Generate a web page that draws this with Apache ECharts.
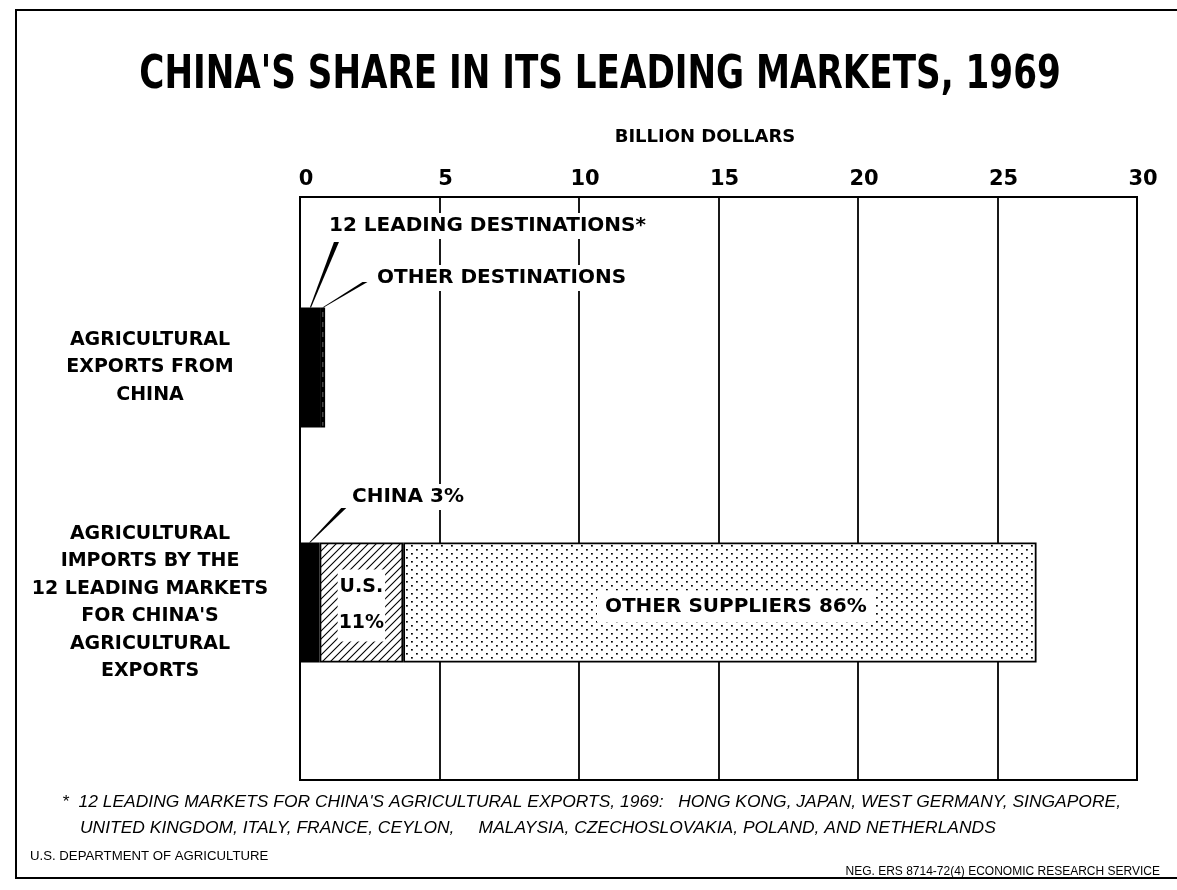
<!DOCTYPE html>
<html>
<head>
<meta charset="utf-8">
<script src="https://cdn.jsdelivr.net/npm/echarts@6/dist/echarts.min.js"></script>
<style>
    html, body { margin: 0; padding: 0; background: #fff; }
    #main { width: 1177px; height: 890px; }
</style>
</head>
<body>
<div id="main"></div>
<script>
// 数据 (billion dollars, 1969)
const categories = [
    'AGRICULTURAL\nEXPORTS FROM\nCHINA',
    'AGRICULTURAL\nIMPORTS BY THE\n12 LEADING MARKETS\nFOR CHINA\'S\nAGRICULTURAL\nEXPORTS'
]
const leadingDestinations = [0.75, null]
const otherDestinations = [0.15, null]
const chinaSupply = [null, 0.7]
const usSupply = [null, 3.0]
const otherSuppliers = [null, 22.7]
const axisMin = 0
const axisMax = 30
const axisStep = 5

const FONT = '"DejaVu Sans", sans-serif'
const importTotal = chinaSupply[1] + usSupply[1] + otherSuppliers[1]

function pct (v) {
    return Math.round(v / importTotal * 100) + '%'
}

/**
 * 图案填充
 */
function makePattern (w, h, draw) {
    let c = document.createElement('canvas')
    c.width = w
    c.height = h
    let ctx = c.getContext('2d')
    draw(ctx)
    return { image: c, repeat: 'repeat' }
}

const hatch = makePattern(8, 8, function (ctx) {
    ctx.fillStyle = '#fff'
    ctx.fillRect(0, 0, 8, 8)
    ctx.strokeStyle = '#000'
    ctx.lineWidth = 1.1
    ctx.beginPath()
    ctx.moveTo(-1, 9); ctx.lineTo(9, -1)
    ctx.moveTo(-5, 5); ctx.lineTo(5, -5)
    ctx.moveTo(3, 13); ctx.lineTo(13, 3)
    ctx.stroke()
})

const dots = makePattern(10, 8, function (ctx) {
    ctx.fillStyle = '#fff'
    ctx.fillRect(0, 0, 10, 8)
    ctx.fillStyle = '#000'
    ctx.fillRect(1, 1, 1.8, 1.6)
    ctx.fillRect(6, 5, 1.8, 1.6)
})

const dashes = makePattern(5, 10, function (ctx) {
    ctx.fillStyle = '#000'
    ctx.fillRect(0, 0, 5, 10)
    ctx.fillStyle = '#fff'
    ctx.fillRect(2, 2, 1.5, 5)
})

const barStyle = function (color) {
    return { color: color, borderColor: '#000', borderWidth: 1.8 }
}

const dom = document.getElementById('main')
const chart = echarts.init(dom, null, { renderer: 'canvas' })

const option = {
    animation: false,
    backgroundColor: '#fff',
    grid: [
        { left: 300, right: 40, top: 197, bottom: 110, show: true, borderColor: '#000', borderWidth: 2, backgroundColor: 'transparent' },
        { left: 300, right: 40, top: 250, bottom: 170 }
    ],
    xAxis: [
        {
            gridIndex: 0,
            type: 'value',
            position: 'top',
            min: axisMin,
            max: axisMax,
            interval: axisStep,
            axisLine: { show: false },
            axisTick: { show: false },
            axisLabel: { margin: 7, padding: [0, 0, 0, 12], fontFamily: FONT, fontWeight: 'bold', fontSize: 21, color: '#000' },
            splitLine: { lineStyle: { color: '#000', width: 1.8 } }
        },
        { gridIndex: 1, type: 'value', min: axisMin, max: axisMax, show: false }
    ],
    yAxis: [
        { gridIndex: 0, type: 'value', show: false },
        {
            gridIndex: 1,
            type: 'category',
            inverse: true,
            data: categories,
            axisLine: { show: false },
            axisTick: { show: false },
            axisLabel: { margin: 150, align: 'center', lineHeight: 27.5, fontFamily: FONT, fontWeight: 'bold', fontSize: 19, color: '#000' }
        }
    ],
    series: [
        { name: '12 leading destinations', type: 'bar', xAxisIndex: 1, yAxisIndex: 1, stack: 'all', barWidth: 120, data: leadingDestinations, itemStyle: barStyle('#000') },
        { name: 'Other destinations', type: 'bar', xAxisIndex: 1, yAxisIndex: 1, stack: 'all', barWidth: 120, data: otherDestinations, itemStyle: barStyle(dashes) },
        { name: 'China', type: 'bar', xAxisIndex: 1, yAxisIndex: 1, stack: 'all', barWidth: 120, data: chinaSupply, itemStyle: barStyle('#000') },
        {
            name: 'U.S.', type: 'bar', xAxisIndex: 1, yAxisIndex: 1, stack: 'all', barWidth: 120, data: usSupply, itemStyle: barStyle(hatch),
            label: {
                show: true, position: 'inside', lineHeight: 36, offset: [0, 3],
                formatter: p => 'U.S.\n' + pct(p.value),
                fontFamily: FONT, fontWeight: 'bold', fontSize: 19, color: '#000', backgroundColor: '#fff', padding: [0, 1]
            }
        },
        {
            name: 'Other suppliers', type: 'bar', xAxisIndex: 1, yAxisIndex: 1, stack: 'all', barWidth: 120, data: otherSuppliers, itemStyle: barStyle(dots),
            label: {
                show: true, position: 'inside', offset: [16, 4],
                formatter: p => 'OTHER SUPPLIERS ' + pct(p.value),
                fontFamily: FONT, fontWeight: 'bold', fontSize: 20, color: '#000', backgroundColor: '#fff', padding: [6, 8]
            }
        }
    ]
}
chart.setOption(option)

// 注释与引线
function px (x, cat) {
    return chart.convertToPixel({ gridIndex: 1 }, [x, cat])
}
function wedge (from, to) {
    return {
        type: 'polygon', z: 20,
        shape: { points: [[from[0] - 2.5, from[1]], [from[0] + 2.5, from[1]], [to[0] + 0.6, to[1]], [to[0] - 0.6, to[1]]] },
        style: { fill: '#000' }
    }
}
function note (text, x, y, size, extra) {
    return {
        type: 'text', z: 15, x: x, y: y,
        style: Object.assign({
            text: text, fill: '#000', font: 'bold ' + size + 'px ' + FONT,
            verticalAlign: 'middle', backgroundColor: '#fff', padding: [3, 4]
        }, extra || {})
    }
}
function plain (text, x, y, font, sx, extra) {
    return {
        type: 'text', z: 15, x: x, y: y, scaleX: sx,
        style: Object.assign({ text: text, fill: '#000', font: font, verticalAlign: 'middle' }, extra || {})
    }
}

const half = 60
const leadTop = px(leadingDestinations[0] / 2, 0); leadTop[1] -= half
const otherTop = px(leadingDestinations[0] + otherDestinations[0] / 2, 0); otherTop[1] -= half
const chinaTop = px(chinaSupply[1] / 2, 1); chinaTop[1] -= half

const footFont = 'italic 16px "Liberation Sans", sans-serif'

chart.setOption({
    graphic: [
        { type: 'rect', z: 1, shape: { x: 16, y: 10, width: 1180, height: 868 }, style: { fill: 'none', stroke: '#000', lineWidth: 2 } },
        {
            type: 'text', z: 15, x: 600, y: 76, scaleY: 1.22,
            style: { text: 'CHINA\'S SHARE IN ITS LEADING MARKETS, 1969', fill: '#000', font: 'bold 38px "DejaVu Sans Condensed", "DejaVu Sans", sans-serif', align: 'center', verticalAlign: 'middle' }
        },
        note('BILLION DOLLARS', 705, 137, 18, { align: 'center', padding: 0 }),
        note('12 LEADING DESTINATIONS*', 325, 226, 20),
        note('OTHER DESTINATIONS', 373, 278, 20),
        note('CHINA ' + pct(chinaSupply[1]), 348, 497, 20),
        wedge([leadTop[0] + 26, 242], leadTop),
        wedge([otherTop[0] + 42, 282], otherTop),
        wedge([chinaTop[0] + 34, 508], chinaTop),
        plain('*  12 LEADING MARKETS FOR CHINA\'S AGRICULTURAL EXPORTS, 1969:   HONG KONG, JAPAN, WEST GERMANY, SINGAPORE,', 62, 803, footFont, 1.09),
        plain('UNITED KINGDOM, ITALY, FRANCE, CEYLON,     MALAYSIA, CZECHOSLOVAKIA, POLAND, AND NETHERLANDS', 80, 829, footFont, 1.09),
        plain('U.S. DEPARTMENT OF AGRICULTURE', 30, 857, '12px "Liberation Sans", sans-serif', 1.1),
        plain('NEG. ERS 8714-72(4) ECONOMIC RESEARCH SERVICE', 1160, 872, '12px "Liberation Sans", sans-serif', 1, { align: 'right' })
    ]
})

window.addEventListener('resize', function () {
    chart.resize()
})
</script>
</body>
</html>
